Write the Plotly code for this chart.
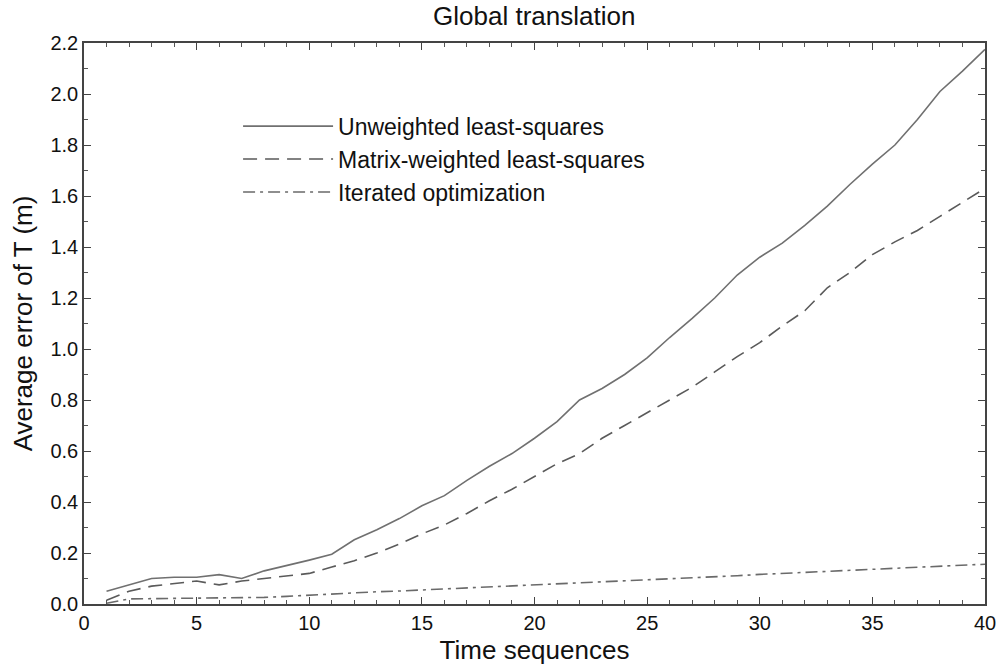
import plotly.graph_objects as go

seq = list(range(1, 41))

unweighted = [0.05, 0.075, 0.10, 0.105, 0.105, 0.115, 0.10, 0.13, 0.15, 0.172,
              0.195, 0.252, 0.291, 0.335, 0.385, 0.425, 0.485, 0.54, 0.59, 0.65,
              0.715, 0.80, 0.845, 0.90, 0.965, 1.045, 1.12, 1.20, 1.29, 1.36,
              1.415, 1.485, 1.56, 1.645, 1.725, 1.80, 1.90, 2.01, 2.09, 2.175]

matrix_weighted = [0.015, 0.05, 0.07, 0.08, 0.09, 0.075, 0.09, 0.10, 0.11, 0.12,
                   0.145, 0.17, 0.20, 0.235, 0.275, 0.31, 0.355, 0.405, 0.45, 0.50,
                   0.55, 0.59, 0.65, 0.70, 0.75, 0.80, 0.85, 0.91, 0.97, 1.025,
                   1.09, 1.15, 1.24, 1.30, 1.37, 1.42, 1.465, 1.52, 1.575, 1.63]

iterated = [0.003, 0.02, 0.021, 0.022, 0.023, 0.024, 0.025, 0.026, 0.03, 0.035,
            0.04, 0.045, 0.048, 0.051, 0.055, 0.058, 0.062, 0.066, 0.069, 0.073,
            0.077, 0.082, 0.087, 0.091, 0.095, 0.099, 0.103, 0.107, 0.111, 0.116,
            0.12, 0.124, 0.128, 0.132, 0.136, 0.14, 0.144, 0.148, 0.152, 0.156]

names = ["Unweighted least-squares", "Matrix-weighted least-squares", "Iterated optimization"]
series = [unweighted, matrix_weighted, iterated]
dashes = ["solid", "14px,8px", "12px,5px,3px,5px"]
colors = ["#707070", "#5a5a5a", "#6a6a6a"]

FONT = "Liberation Sans, Arial, sans-serif"

fig = go.Figure()
for name, ys, dash, col in zip(names, series, dashes, colors):
    fig.add_trace(go.Scatter(x=seq, y=ys, mode="lines", name=name,
                             line=dict(color=col, width=1.6, dash=dash)))

axis_common = dict(showgrid=False, zeroline=False, showline=True, linecolor="#444",
                   linewidth=1.5, mirror="ticks", ticks="inside", ticklen=7,
                   tickcolor="#444", tickwidth=1.2,
                   tickfont=dict(family=FONT, size=20, color="#111"))

fig.update_xaxes(range=[0, 40], tick0=0, dtick=5,
                 minor=dict(dtick=1, ticks="inside", ticklen=4, tickcolor="#555"),
                 title=dict(text="Time sequences", font=dict(family=FONT, size=26, color="#111"),
                            standoff=8),
                 **axis_common)
fig.update_yaxes(range=[0, 2.2], tick0=0, dtick=0.2, tickformat=".1f",
                 minor=dict(dtick=0.1, ticks="inside", ticklen=4, tickcolor="#555"),
                 title=dict(text="Average error of T (m)", font=dict(family=FONT, size=26, color="#111"),
                            standoff=10),
                 **axis_common)

fig.update_layout(
    width=1008, height=672,
    margin=dict(l=84, r=14, t=43, b=68),
    paper_bgcolor="white", plot_bgcolor="white",
    title=dict(text="Global translation", x=0.53, xanchor="center", y=0.99, yanchor="top",
               font=dict(family=FONT, size=26, color="#111")),
    legend=dict(x=0.171, y=0.89, xanchor="left", yanchor="top", bgcolor="rgba(0,0,0,0)",
                borderwidth=0, itemwidth=90, tracegroupgap=0,
                font=dict(family=FONT, size=23, color="#111")),
    showlegend=True,
)

fig.write_html("out.html")
